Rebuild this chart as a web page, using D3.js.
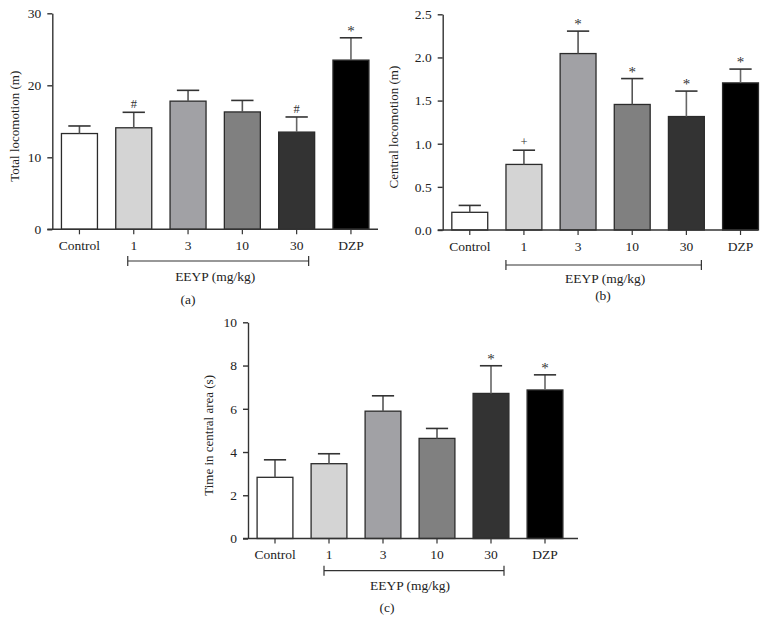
<!DOCTYPE html>
<html><head><meta charset="utf-8">
<script src="https://cdn.jsdelivr.net/npm/d3@7"></script>
<style>
html,body{margin:0;padding:0;background:#fff;}
svg text{font-family:"Liberation Serif","Times New Roman",serif;fill:#222;}
</style></head>
<body>
<svg id="chart" width="775" height="635"></svg>
<script>
// ---------- data ----------
const categories = ["Control", "1", "3", "10", "30", "DZP"];
const barColors = ["#ffffff", "#d4d4d4", "#a1a1a5", "#808080", "#333333", "#000000"];

const totalLocomotion      = [13.3, 14.1, 17.8, 16.3, 13.5, 23.5];
const totalLocomotionErr   = [1.05, 2.15, 1.5, 1.6, 2.1, 3.1];
const totalLocomotionSig   = ["", "#", "", "", "#", "*"];
const totalTicks           = [0, 10, 20, 30];

const centralLocomotion    = [0.205, 0.76, 2.045, 1.455, 1.315, 1.705];
const centralLocomotionErr = [0.08, 0.165, 0.26, 0.30, 0.295, 0.16];
const centralLocomotionSig = ["", "+", "*", "*", "*", "*"];
const centralTicks         = [0, 0.5, 1.0, 1.5, 2.0, 2.5];

const timeCentral          = [2.83, 3.46, 5.89, 4.63, 6.71, 6.87];
const timeCentralErr       = [0.81, 0.46, 0.71, 0.46, 1.28, 0.70];
const timeCentralSig       = ["", "", "", "", "*", "*"];
const timeTicks            = [0, 2, 4, 6, 8, 10];

const groupLabel = "EEYP (mg/kg)";
const groupStart = "1", groupEnd = "30";

// ---------- layout ----------
const panels = [
  {values: totalLocomotion, err: totalLocomotionErr, sig: totalLocomotionSig, ticks: totalTicks, fmt: d3.format("d"),
   title: "Total locomotion (m)", label: "(a)",
   ax: 52.3, y0: 229.3, yTop: 13.3, ymax: 30, step: 54.3, axisEnd: 378,
   brL: -6, brR: 12, brY: 261, grpY: 281, titleX: 16, labelX: 188, labelY: 304},
  {values: centralLocomotion, err: centralLocomotionErr, sig: centralLocomotionSig, ticks: centralTicks, fmt: d3.format(".1f"),
   title: "Central locomotion (m)", label: "(b)",
   ax: 442.7, y0: 230, yTop: 14.3, ymax: 2.5, step: 54.15, axisEnd: 758,
   brL: -18, brR: 15, brY: 265, grpY: 283, titleX: 395, labelX: 603, labelY: 300},
  {values: timeCentral, err: timeCentralErr, sig: timeCentralSig, ticks: timeTicks, fmt: d3.format("d"),
   title: "Time in central area (s)", label: "(c)",
   ax: 248, y0: 538.5, yTop: 322.3, ymax: 10, step: 54, axisEnd: 578,
   brL: -5, brR: 13, brY: 570.7, grpY: 590, titleX: 210, labelX: 387, labelY: 612}
];

const svg = d3.select("#chart");
const axisColor = "#333";

panels.forEach(p => {
  const g = svg.append("g");
  const x = d3.scaleBand().domain(categories)
    .range([p.ax, p.ax + p.step * categories.length])
    .paddingInner(0.337).paddingOuter(0.337 / 2);
  const y = d3.scaleLinear().domain([0, p.ymax]).range([p.y0, p.yTop]);

  // bars
  g.selectAll("rect.bar").data(p.values).join("rect")
    .attr("class", "bar")
    .attr("x", (d, i) => x(categories[i]))
    .attr("width", x.bandwidth())
    .attr("y", d => y(d))
    .attr("height", d => y(0) - y(d))
    .attr("fill", (d, i) => barColors[i])
    .attr("stroke", "#2b2b2b").attr("stroke-width", 1.3);

  // error bars (upper only)
  const capW = x.bandwidth() * 0.62;
  p.values.forEach((v, i) => {
    const cx = x(categories[i]) + x.bandwidth() / 2;
    const top = y(v + p.err[i]);
    g.append("line").attr("x1", cx).attr("x2", cx).attr("y1", y(v)).attr("y2", top)
      .attr("stroke", i >= 4 ? "#666" : "#555").attr("stroke-width", 1.6);
    g.append("line").attr("x1", cx - capW / 2).attr("x2", cx + capW / 2).attr("y1", top).attr("y2", top)
      .attr("stroke", "#333").attr("stroke-width", 1.6);
    if (p.sig[i]) {
      const s = p.sig[i];
      g.append("text").attr("x", cx).attr("y", top - (s === "*" ? 2 : 4))
        .attr("text-anchor", "middle")
        .attr("font-size", s === "*" ? 15 : 12.5)
        .style("fill", "#333")
        .text(s);
    }
  });

  // y axis
  const yAxis = d3.axisLeft(y).tickValues(p.ticks).tickFormat(p.fmt).tickSize(5).tickPadding(6).tickSizeOuter(0);
  const ya = g.append("g").attr("transform", `translate(${p.ax},0)`).call(yAxis);
  ya.selectAll("text").attr("font-size", 13.5).style("fill", "#222");
  ya.selectAll("line,path").attr("stroke", axisColor).attr("stroke-width", 1.4);

  // x axis
  const xAxis = d3.axisBottom(x).tickSize(5).tickPadding(6).tickSizeOuter(0);
  const xa = g.append("g").attr("transform", `translate(0,${p.y0})`).call(xAxis);
  xa.select(".domain").remove();
  xa.selectAll("text").attr("font-size", 13.5).style("fill", "#222");
  xa.selectAll("line").attr("stroke", axisColor).attr("stroke-width", 1.2);
  g.append("line").attr("x1", p.ax - 5).attr("x2", p.axisEnd).attr("y1", p.y0).attr("y2", p.y0)
    .attr("stroke", axisColor).attr("stroke-width", 1.4);

  // y title
  g.append("text")
    .attr("transform", `translate(${p.titleX},${(p.y0 + p.yTop) / 2 + 5}) rotate(-90)`)
    .attr("text-anchor", "middle").attr("dominant-baseline", "middle")
    .attr("font-size", 13).text(p.title);

  // group bracket
  const c1 = x(groupStart) + x.bandwidth() / 2, c2 = x(groupEnd) + x.bandwidth() / 2;
  const bx1 = c1 + p.brL, bx2 = c2 + p.brR;
  g.append("path")
    .attr("d", `M${bx1},${p.brY - 5}V${p.brY + 5}M${bx1},${p.brY}H${bx2}M${bx2},${p.brY - 5}V${p.brY + 5}`)
    .attr("fill", "none").attr("stroke", axisColor).attr("stroke-width", 1.2);
  g.append("text").attr("x", (c1 + c2) / 2).attr("y", p.grpY)
    .attr("text-anchor", "middle").attr("font-size", 13.5).text(groupLabel);

  // panel label
  g.append("text").attr("x", p.labelX).attr("y", p.labelY)
    .attr("text-anchor", "middle").attr("font-size", 13.5).text(p.label);
});
</script>
</body></html>
